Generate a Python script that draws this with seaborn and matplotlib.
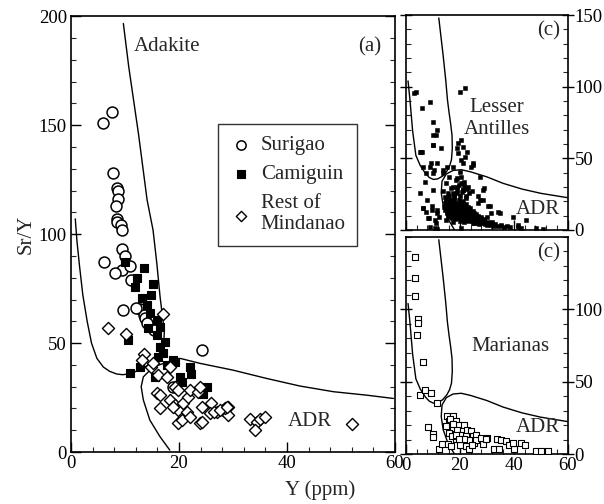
import matplotlib
matplotlib.use("Agg")
import matplotlib.pyplot as plt
from matplotlib.ticker import MultipleLocator
import seaborn as sns

sns.set_style("ticks")
plt.rcParams["font.family"] = ["Liberation Serif", "DejaVu Serif"]

# --- panel (a): Mindanao samples, Y (ppm) vs Sr/Y ---
surigao_y = [6.0, 7.6, 7.8, 8.5, 8.8, 8.8, 8.3, 8.5, 8.5, 9.2, 9.4, 9.4, 10.0, 6.2,
             9.4, 8.1, 10.9, 11.2, 9.7, 12.7, 13.5, 13.7, 15.3, 24.2, 18.8, 14.0, 12.0]
surigao_sry = [151, 156, 128, 121, 120, 116, 113, 107, 105.6, 104, 102, 93, 90, 87.3,
               83.5, 82, 85.5, 79, 65.3, 65.5, 63, 61.3, 56, 46.8, 30, 59, 66]

camiguin_y = [10.0, 13.6, 12.3, 11.9, 15.1, 13.1, 14.1, 14.6, 14.3, 16.5, 17.4, 16.4, 17.1,
              16.2, 19.3, 17.7, 22.0, 22.3, 12.8, 10.9, 10.6, 15.6, 20.2, 20.5, 24.5, 25.2,
              15.9, 18.9, 16.0, 14.8]
camiguin_sry = [87.3, 84.3, 79.7, 75.8, 77.1, 70.5, 67.4, 63.6, 56.7, 57.5, 50.6, 48.3, 45.3,
                43.7, 41.4, 39.9, 39.1, 35.8, 39.1, 36.2, 51.4, 34.5, 34.5, 32.2, 26.5, 30.0,
                53.7, 42.2, 60.5, 72.0]

rest_y = [6.9, 10.1, 17.0, 13.6, 13.1, 14.9, 16.2, 17.7, 15.9, 16.5, 16.4, 18.3, 19.3, 19.3,
          19.9, 20.8, 21.4, 19.9, 20.5, 22.0, 21.7, 22.0, 23.9, 24.2, 23.6, 26.0, 25.7, 27.0,
          28.2, 29.1, 29.1, 33.1, 34.4, 35.0, 35.9, 34.1, 52.0, 18.3, 15.2, 26.4, 28.5, 24.2,
          23.9, 27.6, 28.8, 19.9, 18.9]
rest_sry = [57.0, 54.4, 63.3, 45.0, 42.2, 39.1, 35.3, 34.5, 26.9, 26.1, 20.3, 23.9, 30.0, 21.6,
            19.3, 22.3, 18.5, 13.2, 14.7, 16.2, 25.4, 28.4, 13.2, 20.8, 27.7, 22.3, 17.8, 18.5,
            19.3, 20.8, 17.0, 15.4, 13.9, 15.4, 16.2, 10.1, 12.7, 39.1, 40.7, 18.5, 20.0, 13.9,
            30.0, 19.3, 20.8, 28.4, 20.8]

# field boundaries, panel (a)
adakite_a_y = [0.8, 1.1, 1.6, 2.2, 3.0, 3.8, 4.8, 6.0, 7.2, 8.5, 9.6, 11.0, 12.5, 14.0, 15.5,
               16.6, 17.2, 17.3, 17.1, 16.5, 15.9, 15.2, 14.1, 12.5, 10.7, 9.7]
adakite_a_sry = [107, 97, 85, 72, 60, 50, 43, 39, 37, 35.8, 35.5, 36, 37.5, 39.5, 42.5,
                 46, 51, 56, 59, 71.2, 86.5, 101.8, 115.6, 146, 176.7, 196.6]
adr_a_y = [18.3, 16.5, 14.6, 13.4, 13.0, 13.4, 15.2, 18.9, 20.2, 23.9, 30.0, 36.2, 42.4,
           48.6, 54.8, 59.7]
adr_a_sry = [0.9, 7.0, 14.7, 23.9, 30.0, 34.5, 39.0, 42.2, 43.0, 40.7, 37.6, 33.8, 30.3,
             27.7, 26.1, 24.6]

# field boundaries, panels (c)
adakite_c_y = [0.8, 1.5, 2.5, 3.7, 5.3, 7.2, 8.7, 10.2, 11.8, 13.6, 15.2, 16.2, 16.9, 17.2,
               17.1, 16.6, 16.0, 15.4, 14.8, 13.8, 13.0, 12.2]
adakite_c_sry = [104, 91, 69, 52, 45, 39.5, 36.5, 35.2, 35.6, 37.5, 41, 44.5, 49, 57,
                 66, 74, 82, 91, 104, 122, 135, 148]
adr_c_y = [18.0, 15.5, 13.8, 13.1, 13.4, 15.0, 17.5, 20.5, 24.0, 30.0, 36.0, 43.0, 50.0, 59.8]
adr_c_sry = [0.0, 8.0, 17.0, 26.0, 34.0, 39.0, 41.5, 42.0, 40.5, 37.0, 32.5, 28.5, 25.5, 22.5]

# --- Lesser Antilles ---
antilles_y = [3.0, 8.9, 5.8, 21.9, 10.1, 11.6, 9.9, 10.1, 13.2, 20.0, 5.2, 19.4, 20.6, 18.8,
              21.2, 22.5, 19.4, 21.9, 20.6, 25.0, 24.3, 17.5, 15.1, 13.8, 11.4, 8.9, 5.8, 10.1,
              7.0, 5.2, 7.7, 6.4, 9.5, 8.3, 10.7, 8.9, 11.4, 27.4, 28.6, 26.8, 31.1, 34.8, 39.7,
              44.7, 48.4, 50.9, 41.6, 13.8, 21.2, 24.9, 20.6, 21.2, 23.1, 18.8, 17.5, 10.1, 9.5,
              11.4, 27.4, 26.8, 30.5, 31.7, 34.2, 10.7, 41.6, 42.8, 18.5, 19.7, 17.3, 21.0, 19.1,
              22.2, 17.9, 21.6, 20.4, 16.0, 14.8, 29.0, 28.4, 10.5, 7.4, 6.2, 9.3, 11.1, 9.9, 5.6,
              8.6, 7.4, 6.2, 11.7, 12.3, 14.8, 11.1, 17.3, 20.5, 3.8, 20.1, 19.0, 22.8,
              # dense cluster
              15.0, 16.4, 17.9, 19.6, 21.1, 14.4, 15.6, 16.9, 18.1, 19.3, 20.4, 22.1,
              14.2, 15.4, 16.3, 17.6, 18.7, 19.6, 20.9, 22.0, 23.1, 14.6, 15.5, 16.8, 17.7,
              19.0, 20.1, 21.0, 22.3, 23.5, 15.1, 16.0, 17.3, 18.2, 19.5, 20.4, 21.7, 22.6,
              23.9, 25.1, 15.6, 16.5, 17.8, 18.7, 20.0, 20.9, 22.2, 23.1, 24.4, 25.3, 26.6,
              17.1, 18.3, 19.3, 20.7, 21.7, 23.1, 24.1, 25.5, 26.5, 27.9, 29.1, 20.2, 21.4,
              23.1, 24.4, 26.1, 27.4, 29.1, 30.4, 32.1, 25.1, 27.1, 28.9, 31.1, 33.0, 35.1,
              30.2, 32.4, 35.1, 37.4, 16.0, 18.2, 15.2, 17.0, 19.8, 21.5, 23.6, 24.7,
              16.2, 18.6, 20.2, 22.4, 24.2, 26.0, 28.0, 30.0, 15.8, 17.4,
              14.9, 15.7, 16.6, 17.4, 18.4, 19.2, 20.1, 21.3, 22.6, 23.7, 24.9, 26.2, 27.6,
              29.4, 31.6, 33.8, 36.2, 38.6,
              # scatter above the cluster
              14.6, 16.1, 17.8, 19.9, 22.4, 15.5, 18.0, 20.8, 23.5, 16.9, 19.1, 21.7, 24.6, 13.9]
antilles_sry = [95.4, 89.5, 85.0, 99.0, 75.6, 69.8, 66.3, 59.3, 57.0, 96.5, 54.6, 60.5, 62.8, 57.3,
                58.2, 54.7, 53.5, 51.2, 48.8, 46.5, 44.2, 44.2, 44.2, 39.5, 46.5, 44.2, 54.7, 39.5,
                33.7, 25.6, 20.9, 15.1, 13.9, 8.1, 7.0, 2.3, 0.5, 37.2, 27.9, 23.3, 16.3, 11.6, 9.3,
                7.0, 1.2, 0.5, 2.3, 41.9, 46.5, 45.4, 32.6, 27.9, 30.2, 30.2, 25.6, 27.9, 16.3,
                11.6, 20.9, 18.6, 16.3, 11.6, 12.8, 1.2, 3.5, 1.2, 34.9, 31.4, 30.2, 27.9, 25.6,
                23.3, 22.1, 33.7, 37.2, 37.2, 32.6, 29.1, 20.9, 41.9, 39.6, 44.2, 46.5, 66.3, 59.3, 54.6,
                8.1, 12.8, 15.1, 14.0, 9.3, 7.0, 4.7, 5.8, 1.5, 96.0, 40.5, 36.0, 28.5,
                # dense cluster
                20.5, 20.8, 20.3, 20.6, 20.1, 18.4, 18.0, 18.6, 17.8, 18.3, 18.7, 17.9,
                16.2, 15.8, 16.4, 16.0, 15.7, 16.3, 15.9, 16.1, 15.6, 14.1, 13.8, 14.3, 14.0,
                13.7, 14.2, 13.9, 14.4, 13.8, 12.1, 11.8, 12.3, 11.9, 12.2, 11.7, 12.1, 11.8,
                12.3, 11.6, 10.0, 10.3, 9.8, 10.2, 9.7, 10.1, 9.9, 10.3, 9.8, 10.0, 9.6,
                8.1, 7.8, 8.3, 7.9, 8.2, 7.7, 8.1, 7.9, 8.2, 7.6, 7.9, 6.1, 5.8,
                6.3, 5.9, 6.2, 5.7, 6.0, 5.6, 5.3, 4.6, 4.3, 4.7, 4.2, 3.9, 3.6,
                3.1, 2.8, 2.6, 2.4, 19.2, 19.0, 17.0, 17.1, 17.0, 17.2, 15.0, 13.0,
                13.2, 13.0, 13.1, 12.9, 10.9, 11.0, 9.0, 8.9, 8.8, 11.0,
                19.3, 17.1, 15.0, 12.9, 11.0, 9.1, 8.9, 7.1, 6.9, 6.8, 5.1, 4.9, 5.0,
                4.1, 3.4, 3.0, 2.2, 1.9,
                # scatter above the cluster
                23.0, 23.4, 22.6, 23.8, 22.2, 26.0, 25.2, 26.6, 25.4, 29.0, 28.1, 30.6, 27.4, 27.0]

# --- Marianas ---
marianas_y = [3.3, 3.3, 3.3, 4.6, 4.6, 4.3, 6.4, 5.2, 7.2, 9.3, 11.5, 8.3, 10.1, 10.1, 12.3,
              13.3, 15.7, 16.9, 18.5, 20.0, 22.2, 23.5, 25.3, 27.4, 28.4, 30.2, 32.7, 34.6, 33.6,
              35.2, 37.0, 38.3, 40.1, 39.7, 42.6, 44.2, 48.1, 50.0, 52.5, 15.4, 17.3, 16.0, 18.5,
              14.8, 17.3, 19.7, 21.6, 19.1, 21.0, 22.8, 24.1, 20.4, 22.2, 24.7, 25.9, 23.5, 25.9,
              27.8, 29.6, 16.0, 17.0, 18.5, 21.6, 19.7, 24.4, 16.4, 17.6]
marianas_sry = [136, 121.4, 108.9, 93.4, 90.4, 82.4, 63.7, 40.9, 44.3, 42.0, 35.6, 18.5, 14.2,
                11.8, 3.2, 7.3, 7.3, 5.5, 10.5, 6.0, 5.5, 3.2, 7.7, 10.1, 7.3, 11.2, 3.6, 3.6,
                10.1, 9.6, 8.9, 6.0, 3.2, 7.7, 7.7, 6.6, 2.1, 2.1, 2.1, 26.0, 26.5, 22.6, 22.6,
                19.2, 18.0, 20.3, 20.3, 16.9, 15.8, 16.9, 15.8, 13.5, 12.3, 12.3, 13.5, 9.6, 9.6,
                11.2, 10.5, 14.6, 12.3, 13.5, 10.1, 10.1, 6.6, 24.0, 21.0]

fig = plt.figure(figsize=(6.04, 5.04), dpi=100)
ax_a = fig.add_axes([0.1175, 0.103, 0.5365, 0.865])
ax_la = fig.add_axes([0.672, 0.544, 0.268, 0.426])
ax_ma = fig.add_axes([0.672, 0.099, 0.268, 0.431])

FS = 15
TS = 13.5

# panel (a)
ax_a.plot(adakite_a_y, adakite_a_sry, color="black", lw=1)
ax_a.plot(adr_a_y, adr_a_sry, color="black", lw=1)
sns.scatterplot(x=surigao_y, y=surigao_sry, marker="o", s=62, facecolor="white",
                edgecolor="black", linewidth=1.1, label="Surigao", ax=ax_a, zorder=3)
sns.scatterplot(x=camiguin_y, y=camiguin_sry, marker="s", s=40, facecolor="black",
                edgecolor="black", linewidth=0.8, label="Camiguin", ax=ax_a, zorder=4)
sns.scatterplot(x=rest_y, y=rest_sry, marker="D", s=38, facecolor="white",
                edgecolor="black", linewidth=1.0, label="Rest of\nMindanao", ax=ax_a, zorder=5)

leg = ax_a.legend(loc="upper left", bbox_to_anchor=(0.454, 0.752), borderaxespad=0,
                  frameon=True, fancybox=False, edgecolor="black", fontsize=FS,
                  markerscale=0.85, handletextpad=0.4, handlelength=1.1,
                  borderpad=0.55, labelspacing=0.45)
leg.get_frame().set_linewidth(1.0)

ax_a.text(11.6, 186, "Adakite", fontsize=FS, va="center")
ax_a.text(57.5, 186, "(a)", fontsize=FS, va="center", ha="right")
ax_a.text(44.3, 14, "ADR", fontsize=FS, va="center", ha="center")
ax_a.set_xlim(0, 60)
ax_a.set_ylim(0, 200)
ax_a.set_xticks([0, 20, 40, 60])
ax_a.set_yticks([0, 50, 100, 150, 200])
ax_a.xaxis.set_minor_locator(MultipleLocator(4))
ax_a.yaxis.set_minor_locator(MultipleLocator(10))
ax_a.set_ylabel("Sr/Y", fontsize=FS, labelpad=2)

# panel (c) Lesser Antilles
ax_la.plot(adakite_c_y, adakite_c_sry, color="black", lw=1)
ax_la.plot(adr_c_y, adr_c_sry, color="black", lw=1)
sns.scatterplot(x=antilles_y, y=antilles_sry, marker="s", s=7, color="black",
                edgecolor="black", linewidth=0.4, ax=ax_la)
ax_la.text(57, 139, "(c)", fontsize=FS, ha="right", va="center")
ax_la.text(33.8, 78, "Lesser\nAntilles", fontsize=FS, ha="center", va="center",
           linespacing=1.2)
ax_la.text(57, 14, "ADR", fontsize=FS, ha="right", va="center")
ax_la.set_yticks([0, 50, 100, 150])

# panel (c) Marianas
ax_ma.plot(adakite_c_y, adakite_c_sry, color="black", lw=1)
ax_ma.plot(adr_c_y, adr_c_sry, color="black", lw=1)
sns.scatterplot(x=marianas_y, y=marianas_sry, marker="s", s=13, facecolor="white",
                edgecolor="black", linewidth=0.8, ax=ax_ma, zorder=3)
ax_ma.text(57, 139, "(c)", fontsize=FS, ha="right", va="center")
ax_ma.text(38.8, 74, "Marianas", fontsize=FS, ha="center", va="center")
ax_ma.text(57, 18.5, "ADR", fontsize=FS, ha="right", va="center")
ax_ma.set_yticks([0, 50, 100])

for ax in (ax_la, ax_ma):
    ax.set_xlim(0, 60)
    ax.set_ylim(0, 150)
    ax.set_xticks([0, 20, 40, 60])
    ax.xaxis.set_minor_locator(MultipleLocator(4))
    ax.yaxis.set_minor_locator(MultipleLocator(10))
    ax.yaxis.tick_right()

for ax in (ax_a, ax_la, ax_ma):
    for sp in ax.spines.values():
        sp.set_visible(True)
        sp.set_linewidth(1.2)
        sp.set_color("black")
    ax.tick_params(which="minor", direction="in", length=3.5, width=0.8,
                   left=True, right=True, bottom=True, top=False)
    ax.tick_params(which="major", labelsize=TS, left=True, right=True, bottom=True,
                   top=False, colors="black", width=1)
    ax.tick_params(axis="x", which="major", direction="in", length=7, pad=2)

ax_a.tick_params(axis="y", which="major", direction="in", length=7, pad=3)
ax_a.tick_params(labelleft=True, labelright=False)
for ax in (ax_la, ax_ma):
    ax.tick_params(axis="y", which="major", direction="inout", length=9, pad=0.5)
ax_la.tick_params(labelleft=False, labelright=True, labelbottom=False)
ax_ma.tick_params(labelleft=False, labelright=True)

fig.text(0.53, 0.028, "Y (ppm)", fontsize=FS, ha="center", va="center")

fig.savefig("out.png", dpi=100)
